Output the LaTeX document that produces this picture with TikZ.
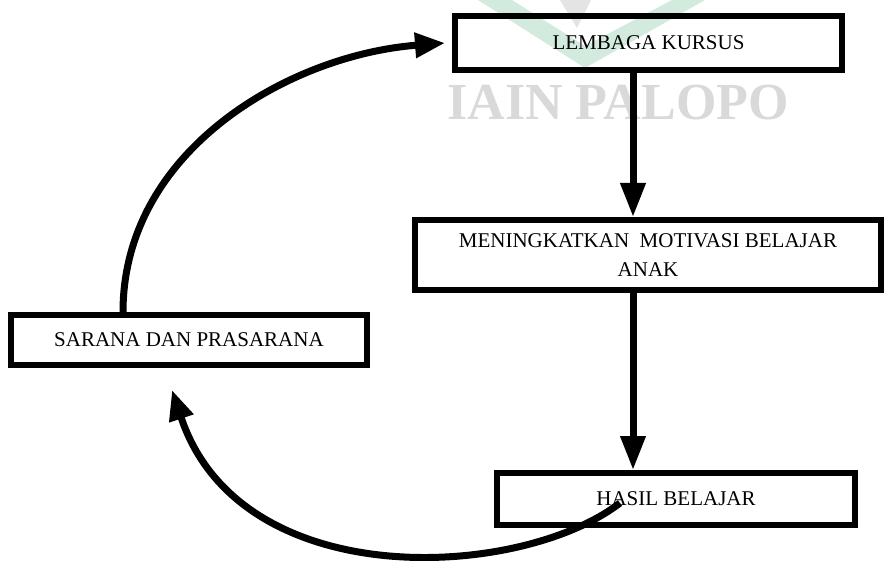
\documentclass[tikz,border=0pt]{standalone}
\usepackage{fontspec}
\setmainfont{Liberation Serif}
\usetikzlibrary{arrows.meta}
\definecolor{wmgreen}{HTML}{D3EBDE}
\definecolor{wmgray}{HTML}{D9D9D9}
\begin{document}
\begin{tikzpicture}[x=1pt,y=-1pt,
  box/.style={draw=black, line width=6pt, inner sep=0pt, align=center,
    font=\fontsize{21}{29}\selectfont},
  flow/.style={line width=7pt, -{Triangle[width=24pt,length=34pt]}},
  curv/.style={line width=7pt, -{Triangle[width=24pt,length=30pt]}}]
\useasboundingbox (0,0) rectangle (885,561);
% watermark
\fill[wmgreen] (478,0) -- (585,68) -- (705,0) -- (672,0) -- (585,46) -- (512,0) -- cycle;
\fill[wmgray!70] (560,0) -- (591,0) -- (577,28) -- cycle;
\node[text=wmgray, font=\fontsize{52}{52}\selectfont\bfseries] (wm) at (618,103) {IAIN PALOPO};
% boxes
\node[box, minimum width=387pt, minimum height=54pt] (lem) at (648.5,43) {LEMBAGA KURSUS};
\node[box, minimum width=466pt, minimum height=70pt] (men) at (648,255) {MENINGKATKAN\ \ MOTIVASI BELAJAR\\ANAK};
\node[box, minimum width=358pt, minimum height=52pt] (has) at (676,499) {HASIL BELAJAR};
\node[box, minimum width=356pt, minimum height=50pt] (sar) at (189,340) {SARANA DAN PRASARANA};
% connectors
\coordinate (c1s) at (123,313);
\coordinate (c1e) at (445,43);
\coordinate (c2s) at (620,503);
\coordinate (c2e) at (172,390);
\draw[flow] (lem.south -| 633,0) -- (men.north -| 633,0);
\draw[flow] (men.south -| 633,0) -- (has.north -| 633,0);
\draw[curv] (sar.north -| c1s) .. controls (123,150) and (290,55) .. (c1e);
\draw[curv] (c2s) .. controls (520,580) and (240,595) .. (c2e);
\end{tikzpicture}
\end{document}
